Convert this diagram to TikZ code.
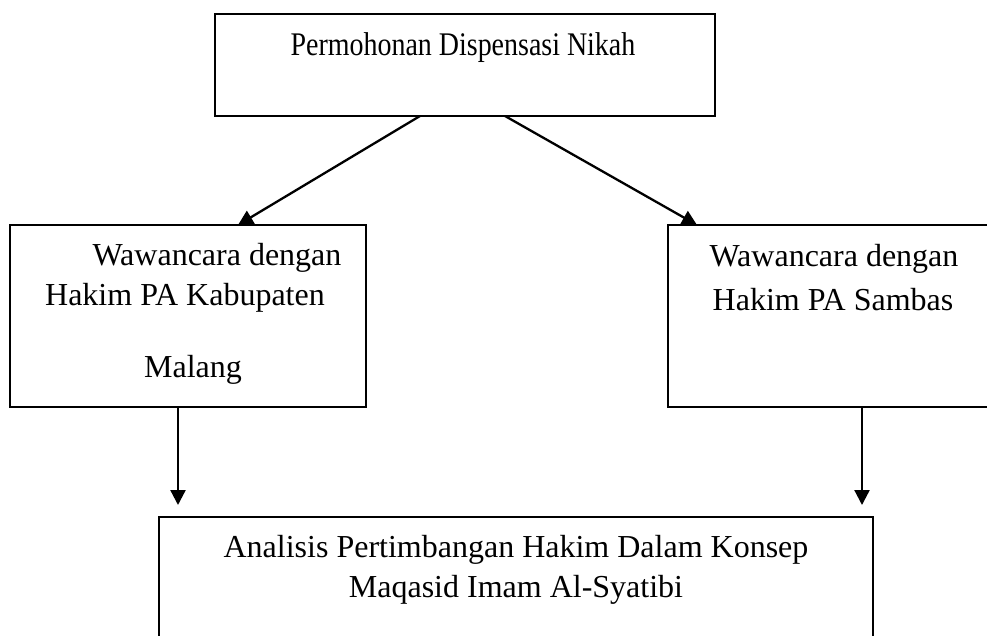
\documentclass[tikz,border=0pt]{standalone}
\usepackage{fontspec}
\setmainfont{Liberation Serif}
\usetikzlibrary{arrows.meta}
\begin{document}
\begin{tikzpicture}[x=1pt,y=-1pt,
  box/.style={draw=black,line width=1.8pt,inner sep=0pt,outer sep=0pt},
  txt/.style={anchor=base,inner sep=0pt,font=\fontsize{32}{38}\selectfont},
  conn/.style={line width=2.3pt,-{Triangle[length=15pt,width=15pt]}}]
\useasboundingbox (0,0) rectangle (987,635);
\clip (0,0) rectangle (987,635);
\node[box,minimum width=500pt,minimum height=102pt] (top) at (465,65) {};
\node[box,minimum width=356pt,minimum height=182pt] (left) at (188,316) {};
\node[box,minimum width=340pt,minimum height=182pt] (right) at (838,316) {};
\node[box,minimum width=714pt,minimum height=140pt] (bottom) at (516,587) {};
\node[txt,font=\fontsize{33}{38}\selectfont] (t0) at (463,55) {\scalebox{0.847}[1]{Permohonan Dispensasi Nikah}};
\node[txt] (l1) at (217,265) {Wawancara dengan};
\node[txt] (l2) at (185,305) {Hakim PA Kabupaten};
\node[txt] (l3) at (193,377) {Malang};
\node[txt] (r1) at (834,266) {Wawancara dengan};
\node[txt] (r2) at (833,310) {Hakim PA Sambas};
\node[txt] (b1) at (516,557) {Analisis Pertimbangan Hakim Dalam Konsep};
\node[txt] (b2) at (516,597) {Maqasid Imam Al-Syatibi};
\coordinate (lt) at ([xshift=19pt,yshift=12pt]bottom.north west);
\coordinate (rt) at ([xshift=703pt,yshift=12pt]bottom.north west);
\draw[conn] ([xshift=205pt]top.south west) -- ([xshift=228pt]left.north west);
\draw[conn] ([xshift=290pt]top.south west) -- ([xshift=29pt]right.north west);
\draw[conn] ([xshift=168pt]left.south west) -- (lt);
\draw[conn] ([xshift=194pt]right.south west) -- (rt);
\end{tikzpicture}
\end{document}
